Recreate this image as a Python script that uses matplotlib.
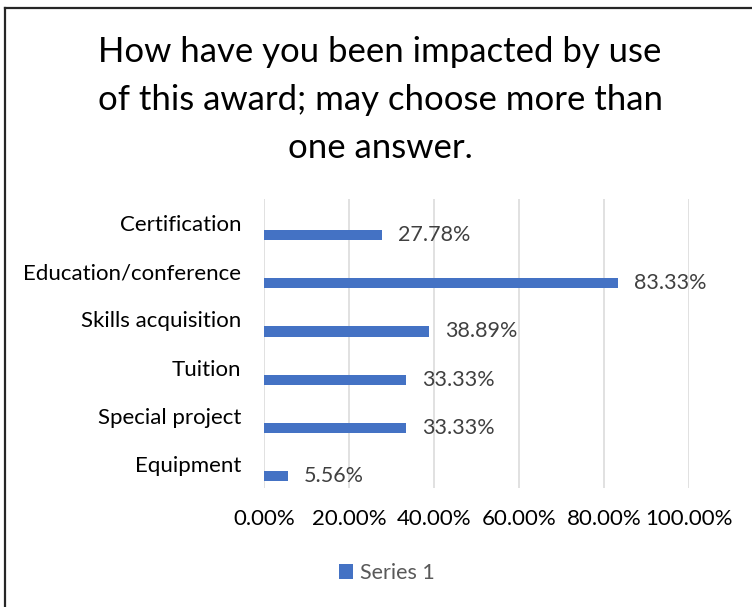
import matplotlib
matplotlib.use("Agg")
import matplotlib.pyplot as plt
from matplotlib.lines import Line2D

plt.rcParams['font.family'] = ['Lato', 'DejaVu Sans']

categories = ['Certification', 'Education/conference', 'Skills acquisition',
              'Tuition', 'Special project', 'Equipment']
values = [27.78, 83.33, 38.89, 33.33, 33.33, 5.56]
xticks = [0, 20, 40, 60, 80, 100]
series_name = 'Series 1'
title = 'How have you been impacted by use\nof this award; may choose more than\none answer.'

bar_color = '#4472C4'

fig = plt.figure(figsize=(7.52, 6.07), dpi=100)
ax = fig.add_axes([264/752, 119/607, 425/752, 289/607])

ypos = [i + 0.25 for i in range(len(categories))]
bars = ax.barh(ypos, values, height=0.21, color=bar_color, label=series_name, zorder=3)

ax.set_xlim(0, 100)
ax.set_ylim(len(categories) - 0.5, -0.5)
ax.set_xticks(xticks)
ax.set_xticklabels([f'{t:.2f}%' for t in xticks], fontsize=16, color='#000000')
ax.set_yticks(range(len(categories)))
ax.set_yticklabels(categories, fontsize=16, color='#000000')
ax.tick_params(axis='both', length=0)
ax.tick_params(axis='y', pad=16.5)
ax.tick_params(axis='x', pad=15)
ax.grid(axis='x', color='#D9D9D9', linewidth=1.1, zorder=0)
for s in ax.spines.values():
    s.set_visible(False)

for b, v in zip(bars, values):
    ax.annotate(f'{v:.2f}%', (b.get_width(), b.get_y() + b.get_height()/2),
                xytext=(11.5, 0), textcoords='offset points',
                va='center', ha='left', fontsize=15.5, color='#404040')

fig.text(380/752, 1 - 100/607, title, ha='center', va='center',
         fontsize=25, color='#000000', linespacing=1.62)

fig.legend(handles=[bars], labels=[series_name], loc='center',
           bbox_to_anchor=(387/752, 1 - 573/607), frameon=False,
           fontsize=15.5, labelcolor='#595959', handlelength=0.65,
           handleheight=0.65, handletextpad=0.3)

# chart border (only top and left fall inside the picture)
fig.add_artist(Line2D([5/752, 5/752], [0, 1 - 8/607], color='#262626', lw=1.6))
fig.add_artist(Line2D([5/752, 1], [1 - 8/607, 1 - 8/607], color='#262626', lw=1.6))

fig.savefig('out.png', dpi=100)
